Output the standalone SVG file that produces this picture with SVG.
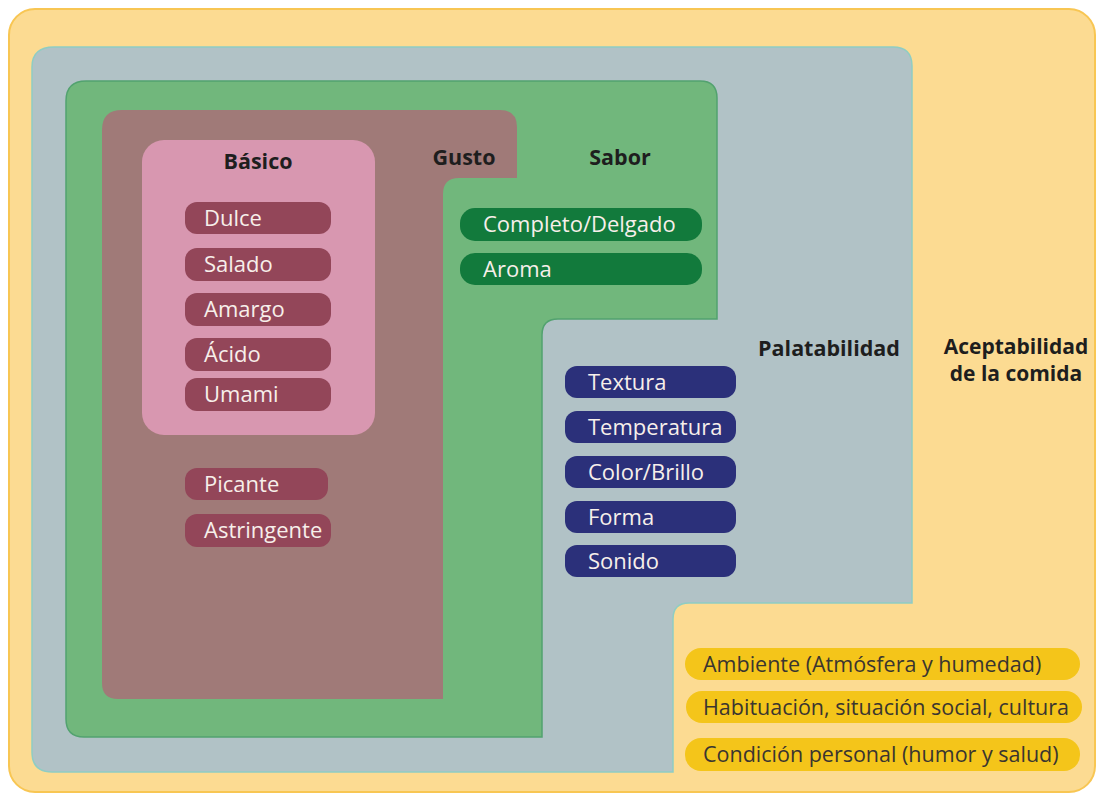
<svg xmlns="http://www.w3.org/2000/svg" width="1096" height="794" viewBox="0 0 1096 794">
<style>
.t{font-family:"Open Sans","Liberation Sans",sans-serif;font-size:22px;fill:#F7EFEA}
.ty{font-family:"Open Sans","Liberation Sans",sans-serif;font-size:21.5px;fill:#3a3530}
.h{font-family:"Open Sans","Liberation Sans",sans-serif;font-size:21.5px;font-weight:bold;fill:#1e1e1e}
.h2{font-family:"Open Sans","Liberation Sans",sans-serif;font-size:21px;font-weight:bold;fill:#1e1e1e}
.pm{fill:#934659}
.pg{fill:#127A3C}
.pb{fill:#2B307A}
.py{fill:#F4C51A}
</style>
<rect width="1096" height="794" fill="#ffffff"/>
<g id="aceptabilidad">
<rect x="9" y="9" width="1086" height="783" rx="26" fill="#FCDB92" stroke="#F8C653" stroke-width="2"/>
<text class="h2" x="1016" y="354" text-anchor="middle">Aceptabilidad</text>
<text class="h2" x="1016" y="381" text-anchor="middle">de la comida</text>
</g>
<g id="palatabilidad">
<path d="M54,47 H893 Q912,47 912,66 V603 H689 Q673,603 673,619 V772 H52 Q32,772 32,752 V67 Q32,47 54,47 Z" fill="#B1C2C6" stroke="#8FCDC3" stroke-width="1.5"/>
<text class="h" x="829" y="356" text-anchor="middle">Palatabilidad</text>
</g>
<g id="sabor">
<path d="M86,81 H700 Q717,81 717,98 V319 H558 Q542,319 542,335 V737 H84 Q66,737 66,719 V101 Q66,81 86,81 Z" fill="#71B77C" stroke="#52A26F" stroke-width="1.5"/>
<text class="h" x="620" y="165" text-anchor="middle">Sabor</text>
</g>
<g id="gusto">
<path d="M122,110 H500 Q517,110 517,127 V178 H459 Q443,178 443,194 V699 H118 Q102,699 102,683 V130 Q102,110 122,110 Z" fill="#A07A78"/>
<text class="h" x="464" y="165" text-anchor="middle">Gusto</text>
</g>
<g id="basico">
<rect x="142" y="140" width="233" height="295" rx="22" fill="#D897B0"/>
<text class="h" x="258" y="169" text-anchor="middle">Básico</text>
</g>
<g id="dulce"><rect class="pm" x="185" y="202" width="146" height="32" rx="12"/><text class="t" x="204" y="225.5">Dulce</text></g>
<g id="salado"><rect class="pm" x="185" y="248" width="146" height="33" rx="12"/><text class="t" x="204" y="272">Salado</text></g>
<g id="amargo"><rect class="pm" x="185" y="293" width="146" height="33" rx="12"/><text class="t" x="204" y="317">Amargo</text></g>
<g id="acido"><rect class="pm" x="185" y="338" width="146" height="33" rx="12"/><text class="t" x="204" y="362">Ácido</text></g>
<g id="umami"><rect class="pm" x="185" y="378" width="146" height="33" rx="12"/><text class="t" x="204" y="402">Umami</text></g>
<g id="picante"><rect class="pm" x="185" y="468" width="143" height="32" rx="12"/><text class="t" x="204" y="491.5">Picante</text></g>
<g id="astringente"><rect class="pm" x="185" y="514" width="146" height="33" rx="12"/><text class="t" x="204" y="538">Astringente</text></g>
<g id="completo"><rect class="pg" x="460" y="208" width="242" height="33" rx="15"/><text class="t" x="483" y="232">Completo/Delgado</text></g>
<g id="aroma"><rect class="pg" x="460" y="253" width="242" height="32" rx="15"/><text class="t" x="483" y="276.5">Aroma</text></g>
<g id="textura"><rect class="pb" x="565" y="366" width="171" height="32" rx="12"/><text class="t" x="588" y="389.5">Textura</text></g>
<g id="temperatura"><rect class="pb" x="565" y="411" width="171" height="32" rx="12"/><text class="t" x="588" y="434.5">Temperatura</text></g>
<g id="color"><rect class="pb" x="565" y="456" width="171" height="32" rx="12"/><text class="t" x="588" y="479.5">Color/Brillo</text></g>
<g id="forma"><rect class="pb" x="565" y="501" width="171" height="32" rx="12"/><text class="t" x="588" y="524.5">Forma</text></g>
<g id="sonido"><rect class="pb" x="565" y="545" width="171" height="32" rx="12"/><text class="t" x="588" y="568.5">Sonido</text></g>
<g id="ambiente"><rect class="py" x="685" y="648" width="395" height="32" rx="16"/><text class="ty" x="703" y="671.5">Ambiente (Atmósfera y humedad)</text></g>
<g id="habituacion"><rect class="py" x="686" y="691" width="396" height="32" rx="16"/><text class="ty" x="703" y="714.5">Habituación, situación social, cultura</text></g>
<g id="condicion"><rect class="py" x="685" y="738" width="395" height="33" rx="16"/><text class="ty" x="703" y="762">Condición personal (humor y salud)</text></g>
<g id="connectors"></g>
</svg>
